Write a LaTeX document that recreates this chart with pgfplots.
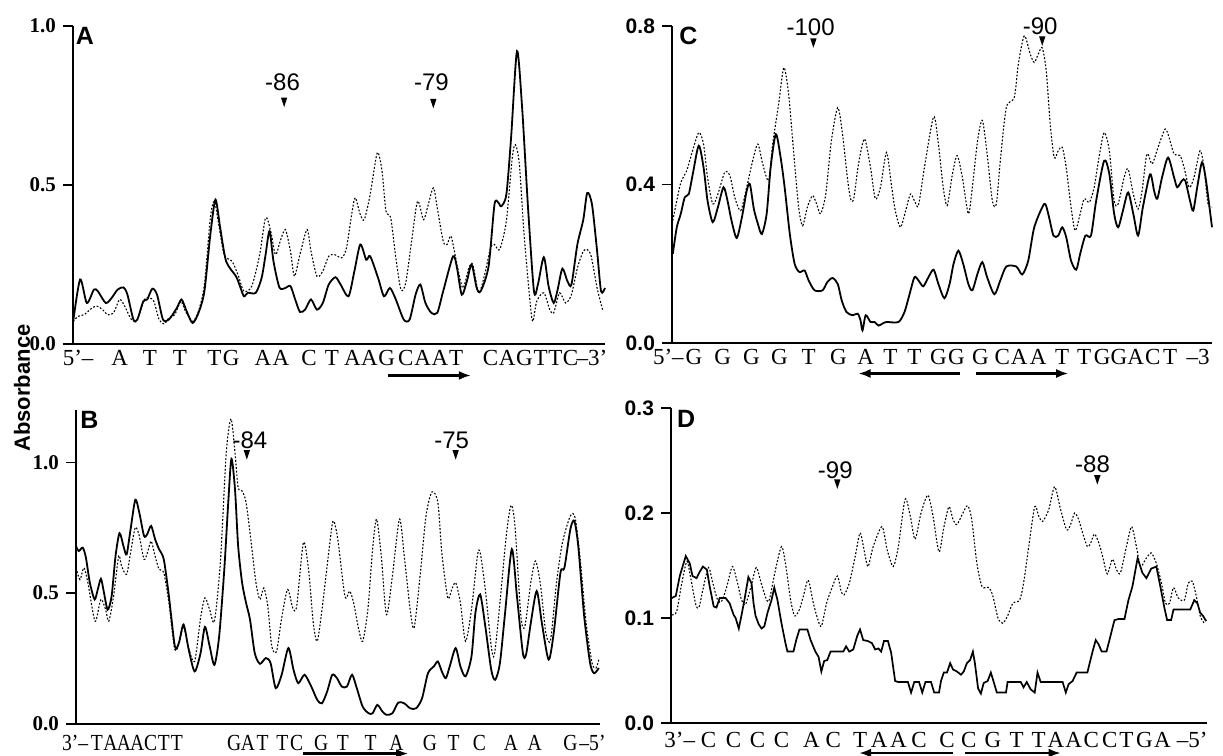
\documentclass[border=0pt]{standalone}
\usepackage{fontspec}
\setmainfont{Liberation Serif}
\setsansfont{Liberation Sans}
\usepackage{pgfplots}
\pgfplotsset{compat=1.18}
\usetikzlibrary{arrows.meta}

% x values are positions along each trace (scan units), y values are absorbance
\pgfplotsset{
  trace/.style={
    scale only axis, anchor=south west, clip=false,
    axis x line*=bottom, axis y line*=left,
    axis line style={-, line width=0.9pt},
    xtick=\empty, ytick pos=left, tick align=outside,
    major tick length=5pt, tick style={line width=0.8pt, black},
  },
  solid trace/.style={black, line width=0.9pt, smooth, tension=0.45},
  dotted trace/.style={black, line width=0.55pt, dash pattern=on 0.9pt off 0.9pt, smooth, tension=0.45},
}
\tikzset{
  seq/.style={font=\fontsize{11.5}{12}\selectfont, inner sep=0pt, text height=7.5pt, text depth=0pt, anchor=center},
  mark lbl/.style={font=\sffamily\fontsize{12}{13}\selectfont, inner sep=0pt},
  panel/.style={font=\sffamily\bfseries\fontsize{12.5}{13}\selectfont, inner sep=0pt},
  pair arrow/.style={line width=1.1pt, -{Latex[length=6pt,width=4.5pt]}},
}
\newcommand\seqrow[2]{\foreach \x/\l in {#2}{\edef\tmp{\noexpand\node[seq] at (axis cs:\x,#1) {\l};}\tmp}}
% downward marker: tip x, tip y, half width, height (axis units)
\newcommand\tri[4]{\fill (axis cs:#1,#2) -- (axis cs:#1-#3,#2+#4) -- (axis cs:#1+#3,#2+#4) -- cycle;}

\begin{document}
\begin{tikzpicture}
\useasboundingbox (0,0) rectangle (611.5pt,378pt);

% ---------------- A ----------------
\begin{axis}[trace, at={(36.5pt,206pt)}, width=266pt, height=159pt,
  xmin=187, xmax=1535, ymin=0, ymax=1.0,
  ytick={0,0.5,1.0}, yticklabels={0.0,0.5,1.0},
  yticklabel style={font=\bfseries\fontsize{10.5}{11}\selectfont}]
\addplot[solid trace] coordinates {
(187,0.066)(205,0.203)(222,0.129)(240,0.171)(250,0.166)(270,0.129)(285,0.145)(300,0.171)(315,0.178)(325,0.155)
(340,0.077)(350,0.077)(365,0.134)(375,0.140)(388,0.174)(400,0.155)(415,0.077)(430,0.077)(450,0.113)(462,0.140)
(475,0.103)(490,0.066)(505,0.098)(520,0.166)(535,0.344)(548,0.454)(560,0.365)(575,0.260)(600,0.213)(610,0.182)
(620,0.150)(630,0.161)(650,0.161)(665,0.208)(675,0.281)(685,0.355)(695,0.260)(710,0.178)(725,0.176)(738,0.182)
(750,0.140)(762,0.101)(775,0.108)(790,0.140)(805,0.108)(820,0.129)(835,0.187)(852,0.210)(865,0.187)(885,0.150)
(900,0.229)(915,0.313)(930,0.265)(940,0.276)(960,0.208)(975,0.150)(990,0.176)(1005,0.140)(1025,0.077)(1040,0.077)
(1055,0.155)(1067,0.187)(1080,0.129)(1095,0.098)(1110,0.098)(1125,0.166)(1150,0.276)(1160,0.239)(1172,0.155)(1185,0.197)
(1197,0.250)(1210,0.176)(1220,0.166)(1240,0.244)(1255,0.439)(1265,0.444)(1272,0.433)(1285,0.470)(1297,0.648)(1312,0.921)
(1325,0.743)(1340,0.428)(1355,0.166)(1365,0.187)(1380,0.273)(1392,0.182)(1405,0.129)(1415,0.171)(1427,0.237)(1440,0.197)
(1450,0.187)(1465,0.313)(1480,0.391)(1490,0.475)(1502,0.439)(1515,0.292)(1525,0.166)(1535,0.176)};
\addplot[dotted trace] coordinates {
(187,0.071)(200,0.087)(215,0.092)(235,0.113)(248,0.119)(262,0.108)(275,0.092)(290,0.098)(305,0.140)(318,0.119)
(335,0.077)(350,0.077)(368,0.140)(380,0.145)(392,0.134)(405,0.077)(418,0.063)(430,0.082)(445,0.092)(460,0.134)
(472,0.103)(490,0.071)(505,0.103)(520,0.187)(535,0.397)(545,0.449)(555,0.386)(570,0.281)(590,0.260)(605,0.218)
(620,0.166)(640,0.182)(660,0.281)(675,0.397)(688,0.355)(700,0.281)(712,0.323)(725,0.360)(738,0.292)(748,0.213)
(762,0.281)(780,0.360)(790,0.292)(805,0.213)(820,0.229)(835,0.276)(850,0.281)(868,0.271)(880,0.302)(893,0.407)
(902,0.460)(915,0.407)(925,0.391)(940,0.470)(958,0.601)(970,0.544)(980,0.418)(992,0.397)(1005,0.271)(1018,0.171)
(1030,0.192)(1045,0.323)(1060,0.449)(1075,0.391)(1085,0.428)(1100,0.491)(1110,0.428)(1125,0.323)(1135,0.313)(1145,0.339)
(1160,0.250)(1175,0.176)(1190,0.239)(1200,0.250)(1215,0.161)(1230,0.218)(1245,0.302)(1255,0.313)(1268,0.297)(1285,0.386)
(1300,0.586)(1308,0.627)(1318,0.565)(1330,0.344)(1345,0.134)(1352,0.071)(1362,0.134)(1380,0.161)(1395,0.108)(1405,0.098)
(1420,0.161)(1435,0.129)(1450,0.155)(1465,0.239)(1480,0.292)(1490,0.297)(1500,0.276)(1515,0.176)(1530,0.103)};
\node[panel] at (axis cs:217,0.970) {A};
\node[mark lbl] at (axis cs:718,0.822) {-86}; \tri{722}{0.745}{8}{0.030}
\node[mark lbl] at (axis cs:1095,0.822) {-79}; \tri{1100}{0.741}{8}{0.030}
\seqrow{-0.043}{200/5'--,305/A,382/T,458/T,545/T,588/G,668/A,714/A,785/C,843/T,895/A,938/A,982/G,1030/C,1073/A,1117/A,1158/T,1245/C,1287/A,1331/G,1372/T,1409/T,1448/C,1502/--3'}
\draw[pair arrow] (axis cs:985,-0.099) -- (axis cs:1195,-0.099);
\end{axis}

% ---------------- B ----------------
\begin{axis}[trace, at={(38pt,16pt)}, width=262pt, height=157pt,
  xmin=190, xmax=1515, ymin=0, ymax=1.2,
  ytick={0,0.5,1.0}, yticklabels={0.0,0.5,1.0},
  yticklabel style={font=\bfseries\fontsize{10.5}{11}\selectfont}]
\addplot[solid trace] coordinates {
(190,0.680)(197,0.661)(207,0.674)(215,0.636)(225,0.540)(237,0.476)(245,0.514)(253,0.555)(260,0.508)(270,0.437)
(280,0.488)(290,0.642)(300,0.729)(310,0.680)(318,0.648)(328,0.744)(340,0.857)(350,0.808)(362,0.719)(370,0.725)
(380,0.757)(390,0.706)(400,0.668)(412,0.629)(425,0.488)(440,0.297)(450,0.309)(462,0.380)(475,0.284)(490,0.201)
(505,0.271)(516,0.371)(528,0.297)(540,0.226)(552,0.335)(565,0.591)(575,0.847)(583,1.013)(592,0.898)(600,0.680)
(610,0.540)(620,0.463)(630,0.399)(642,0.271)(655,0.230)(670,0.252)(682,0.233)(695,0.137)(710,0.188)(727,0.290)
(740,0.207)(752,0.156)(768,0.188)(785,0.143)(800,0.092)(812,0.079)(825,0.124)(838,0.188)(850,0.175)(862,0.143)
(875,0.143)(888,0.188)(900,0.137)(915,0.066)(930,0.041)(940,0.041)(952,0.073)(965,0.047)(975,0.035)(990,0.041)
(1005,0.082)(1020,0.079)(1035,0.060)(1050,0.060)(1065,0.098)(1080,0.194)(1095,0.220)(1105,0.239)(1115,0.201)(1125,0.175)
(1135,0.220)(1150,0.290)(1162,0.220)(1175,0.182)(1190,0.258)(1200,0.425)(1212,0.495)(1225,0.373)(1240,0.207)(1250,0.169)
(1262,0.233)(1275,0.425)(1292,0.668)(1305,0.488)(1320,0.271)(1328,0.265)(1340,0.386)(1355,0.508)(1368,0.386)(1385,0.246)
(1398,0.348)(1415,0.578)(1425,0.597)(1440,0.744)(1450,0.776)(1460,0.680)(1475,0.412)(1490,0.233)(1500,0.194)(1512,0.214)};
\addplot[dotted trace] coordinates {
(190,0.597)(200,0.552)(210,0.597)(220,0.540)(238,0.393)(250,0.463)(255,0.476)(265,0.437)(273,0.393)(285,0.488)
(298,0.642)(305,0.604)(318,0.572)(328,0.655)(340,0.751)(350,0.719)(362,0.629)(372,0.661)(380,0.699)(390,0.642)
(400,0.591)(412,0.578)(425,0.463)(440,0.284)(452,0.316)(462,0.373)(475,0.290)(490,0.239)(505,0.405)(516,0.482)
(528,0.437)(540,0.393)(555,0.616)(570,1.038)(582,1.166)(592,1.038)(600,0.904)(610,0.891)(620,0.847)(632,0.706)
(645,0.540)(655,0.476)(665,0.520)(675,0.450)(685,0.297)(697,0.277)(710,0.405)(725,0.514)(738,0.444)(748,0.450)
(765,0.693)(778,0.591)(790,0.386)(800,0.316)(812,0.437)(828,0.642)(840,0.776)(852,0.706)(870,0.488)(882,0.508)
(892,0.463)(905,0.361)(915,0.316)(928,0.437)(940,0.668)(950,0.783)(962,0.642)(975,0.418)(990,0.565)(1008,0.783)
(1020,0.642)(1035,0.437)(1045,0.367)(1060,0.565)(1075,0.795)(1090,0.887)(1105,0.847)(1115,0.655)(1130,0.482)(1140,0.514)
(1150,0.540)(1162,0.463)(1175,0.316)(1190,0.437)(1205,0.642)(1212,0.655)(1225,0.514)(1240,0.297)(1248,0.265)(1262,0.463)
(1278,0.719)(1290,0.836)(1300,0.757)(1315,0.412)(1325,0.373)(1340,0.540)(1352,0.623)(1365,0.527)(1378,0.348)(1390,0.322)
(1405,0.540)(1420,0.693)(1440,0.795)(1452,0.789)(1465,0.629)(1480,0.386)(1495,0.233)(1505,0.214)(1512,0.246)};
\node[panel] at (axis cs:224,1.163) {B};
\node[mark lbl] at (axis cs:630,1.083) {-84}; \tri{622}{1.010}{8}{0.037}
\node[mark lbl] at (axis cs:1140,1.083) {-75}; \tri{1150}{1.010}{8}{0.037}
\tikzset{seq/.append style={font=\fontsize{11.5}{12}\selectfont\addfontfeature{FakeStretch=0.85}}}
\seqrow{-0.074}{188/3'--,243/T,277/A,311/A,345/A,379/C,412/T,445/T,590/G,625/A,662/T,712/T,748/C,810/G,865/T,935/T,1000/A,1085/G,1145/T,1210/C,1290/A,1350/A,1440/G,1496/--5'}
\draw[pair arrow] (axis cs:765,-0.113) -- (axis cs:1030,-0.113);
\end{axis}

% ---------------- C ----------------
\begin{axis}[trace, at={(336pt,206.5pt)}, width=270pt, height=158.5pt,
  xmin=183, xmax=1535, ymin=0, ymax=0.8,
  ytick={0,0.4,0.8}, yticklabels={0.0,0.4,0.8},
  yticklabel style={font=\sffamily\bfseries\fontsize{10.5}{11}\selectfont}]
\addplot[solid trace] coordinates {
(185,0.225)(195,0.292)(205,0.326)(215,0.368)(225,0.376)(235,0.426)(250,0.498)(262,0.443)(272,0.359)(285,0.305)
(298,0.343)(312,0.393)(322,0.359)(332,0.309)(345,0.265)(358,0.317)(370,0.384)(378,0.401)(388,0.338)(398,0.301)
(408,0.275)(420,0.326)(430,0.443)(443,0.527)(455,0.468)(465,0.393)(478,0.275)(490,0.200)(502,0.179)(515,0.183)
(525,0.158)(540,0.133)(560,0.133)(572,0.154)(585,0.164)(598,0.149)(608,0.107)(620,0.078)(635,0.070)(648,0.074)
(655,0.057)(660,0.032)(668,0.070)(680,0.053)(690,0.053)(700,0.044)(710,0.049)(720,0.053)(750,0.053)(765,0.078)
(778,0.124)(790,0.166)(800,0.158)(812,0.143)(825,0.166)(838,0.185)(850,0.149)(865,0.113)(878,0.149)(888,0.200)
(900,0.233)(912,0.200)(925,0.149)(935,0.133)(948,0.175)(960,0.204)(972,0.166)(990,0.123)(1005,0.158)(1020,0.193)
(1045,0.193)(1060,0.173)(1075,0.208)(1090,0.292)(1115,0.351)(1125,0.326)(1138,0.271)(1150,0.271)(1160,0.292)(1170,0.267)
(1182,0.208)(1195,0.185)(1205,0.225)(1218,0.271)(1232,0.271)(1245,0.359)(1265,0.460)(1278,0.426)(1290,0.326)(1300,0.292)
(1312,0.334)(1325,0.380)(1338,0.326)(1350,0.271)(1362,0.343)(1380,0.426)(1390,0.384)(1398,0.364)(1410,0.418)(1425,0.468)
(1440,0.418)(1448,0.393)(1460,0.410)(1468,0.410)(1480,0.359)(1488,0.334)(1498,0.393)(1510,0.456)(1520,0.410)(1535,0.292)};
\addplot[dotted trace] coordinates {
(185,0.309)(195,0.359)(205,0.405)(220,0.435)(232,0.477)(250,0.531)(262,0.502)(272,0.418)(285,0.351)(298,0.376)
(315,0.431)(328,0.422)(340,0.368)(355,0.334)(370,0.393)(385,0.460)(398,0.502)(410,0.452)(425,0.410)(435,0.502)
(450,0.603)(463,0.695)(475,0.628)(488,0.477)(500,0.343)(510,0.296)(522,0.343)(535,0.372)(545,0.351)(555,0.326)
(568,0.376)(582,0.510)(598,0.594)(610,0.527)(622,0.418)(630,0.364)(638,0.364)(650,0.452)(665,0.515)(680,0.443)
(692,0.364)(705,0.393)(720,0.481)(732,0.401)(742,0.334)(755,0.292)(768,0.334)(780,0.376)(790,0.359)(800,0.347)
(815,0.443)(838,0.571)(850,0.502)(862,0.393)(872,0.347)(885,0.426)(897,0.473)(910,0.418)(925,0.326)(935,0.393)
(948,0.510)(960,0.562)(972,0.477)(985,0.359)(995,0.351)(1005,0.460)(1020,0.594)(1040,0.620)(1050,0.703)(1065,0.775)
(1080,0.729)(1090,0.708)(1100,0.729)(1110,0.745)(1120,0.687)(1130,0.552)(1140,0.468)(1150,0.485)(1160,0.494)(1170,0.443)
(1180,0.359)(1192,0.284)(1205,0.326)(1215,0.364)(1228,0.355)(1240,0.393)(1252,0.468)(1265,0.531)(1278,0.485)(1290,0.359)
(1300,0.351)(1315,0.418)(1325,0.439)(1338,0.376)(1350,0.338)(1360,0.384)(1372,0.477)(1385,0.452)(1400,0.494)(1418,0.540)
(1430,0.510)(1440,0.477)(1455,0.473)(1465,0.443)(1478,0.393)(1490,0.418)(1505,0.485)(1515,0.443)(1525,0.351)(1535,0.343)};
\node[panel] at (axis cs:224,0.775) {C};
\node[mark lbl] at (axis cs:530,0.796) {-100}; \tri{537}{0.745}{8}{0.024}
\node[mark lbl] at (axis cs:1105,0.800) {-90}; \tri{1110}{0.750}{8}{0.024}
\seqrow{-0.035}{174/5'--,238/G,310/G,382/G,452/G,525/T,600/G,668/A,730/T,790/T,850/G,895/G,955/G,1010/C,1052/A,1100/A,1160/T,1215/T,1260/G,1302/G,1344/A,1387/C,1430/T,1500/--3}
\draw[pair arrow] (axis cs:905,-0.077) -- (axis cs:650,-0.077);
\draw[pair arrow] (axis cs:945,-0.077) -- (axis cs:1175,-0.077);
\end{axis}

% ---------------- D ----------------
\begin{axis}[trace, at={(335.5pt,16.5pt)}, width=268pt, height=157.5pt,
  xmin=178, xmax=1522, ymin=0, ymax=0.3,
  ytick={0,0.1,0.2,0.3}, yticklabels={0.0,0.1,0.2,0.3},
  yticklabel style={font=\sffamily\bfseries\fontsize{10.5}{11}\selectfont}]
\addplot[black, line width=0.85pt] coordinates {
(180,0.119)(190,0.121)(200,0.140)(215,0.159)(225,0.152)(232,0.140)(242,0.138)(250,0.144)(258,0.149)(268,0.146)
(275,0.130)(285,0.111)(292,0.110)(300,0.119)(315,0.119)(325,0.114)(335,0.103)(340,0.100)(348,0.090)(355,0.103)
(362,0.117)(372,0.139)(380,0.133)(385,0.114)(390,0.102)(398,0.094)(405,0.090)(412,0.092)(420,0.105)(430,0.117)
(437,0.129)(445,0.117)(455,0.095)(465,0.076)(470,0.068)(485,0.068)(492,0.079)(500,0.089)(520,0.089)(528,0.079)
(540,0.068)(548,0.063)(555,0.049)(562,0.059)(570,0.060)(578,0.068)(610,0.068)(617,0.073)(625,0.068)(635,0.070)
(645,0.083)(652,0.089)(660,0.079)(672,0.078)(682,0.076)(690,0.070)(698,0.071)(705,0.068)(712,0.078)(722,0.078)
(730,0.067)(740,0.040)(748,0.039)(772,0.039)(780,0.029)(788,0.039)(800,0.039)(808,0.029)(816,0.039)(830,0.039)
(838,0.029)(850,0.029)(855,0.040)(862,0.048)(870,0.048)(878,0.057)(885,0.051)(895,0.049)(905,0.046)(912,0.049)
(920,0.057)(928,0.060)(935,0.068)(940,0.057)(948,0.033)(955,0.028)(962,0.038)(972,0.040)(980,0.048)(988,0.038)
(995,0.029)(1018,0.029)(1022,0.039)(1055,0.039)(1062,0.034)(1070,0.039)(1080,0.032)(1090,0.029)(1097,0.048)(1105,0.039)
(1160,0.039)(1168,0.029)(1175,0.037)(1185,0.040)(1195,0.048)(1222,0.048)(1235,0.068)(1243,0.079)(1250,0.075)(1258,0.068)
(1270,0.068)(1280,0.083)(1290,0.098)(1300,0.099)(1315,0.099)(1325,0.117)(1335,0.130)(1348,0.157)(1360,0.143)(1370,0.138)
(1382,0.147)(1395,0.149)(1405,0.130)(1415,0.110)(1422,0.098)(1432,0.098)(1438,0.108)(1480,0.108)(1490,0.117)(1498,0.114)
(1505,0.105)(1512,0.102)(1520,0.097)};
\addplot[dotted trace] coordinates {
(180,0.103)(192,0.106)(205,0.133)(218,0.154)(228,0.137)(240,0.113)(248,0.110)(258,0.127)(272,0.148)(283,0.133)
(295,0.117)(305,0.116)(318,0.130)(332,0.149)(345,0.133)(355,0.117)(365,0.113)(380,0.132)(392,0.148)(405,0.132)
(418,0.117)(425,0.118)(440,0.146)(455,0.168)(465,0.152)(478,0.117)(488,0.102)(500,0.108)(510,0.121)(522,0.136)
(535,0.114)(545,0.100)(555,0.092)(568,0.114)(580,0.127)(595,0.140)(605,0.125)(612,0.122)(625,0.133)(640,0.159)
(652,0.181)(662,0.165)(672,0.149)(685,0.168)(707,0.187)(720,0.165)(735,0.149)(748,0.168)(765,0.213)(778,0.197)
(790,0.175)(805,0.200)(822,0.217)(835,0.197)(850,0.163)(862,0.186)(875,0.206)(885,0.194)(895,0.189)(910,0.200)
(922,0.207)(932,0.194)(945,0.152)(958,0.130)(975,0.129)(985,0.121)(998,0.100)(1010,0.095)(1022,0.102)(1035,0.114)
(1052,0.117)(1062,0.133)(1075,0.168)(1090,0.206)(1100,0.197)(1110,0.192)(1125,0.203)(1140,0.225)(1155,0.203)(1170,0.184)
(1180,0.189)(1190,0.200)(1200,0.194)(1210,0.181)(1222,0.168)(1230,0.171)(1240,0.180)(1252,0.170)(1262,0.156)(1272,0.142)
(1285,0.156)(1295,0.146)(1305,0.143)(1320,0.168)(1333,0.187)(1345,0.168)(1355,0.149)(1368,0.156)(1382,0.162)(1395,0.152)
(1408,0.133)(1418,0.114)(1428,0.114)(1438,0.129)(1450,0.119)(1465,0.117)(1475,0.133)(1485,0.135)(1495,0.121)(1505,0.102)
(1515,0.095)};
\node[panel] at (axis cs:216,0.290) {D};
\node[mark lbl] at (axis cs:590,0.241) {-99}; \tri{595}{0.223}{8}{0.009}
\node[mark lbl] at (axis cs:1235,0.246) {-88}; \tri{1247}{0.227}{8}{0.009}
\seqrow{-0.016}{200/3'--,272/C,335/C,395/C,455/C,530/A,585/C,652/T,700/A,748/A,800/C,870/C,925/C,985/G,1045/T,1100/T,1143/A,1188/A,1232/C,1278/C,1320/T,1365/G,1410/A,1485/--5'}
\draw[pair arrow] (axis cs:885,-0.0286) -- (axis cs:650,-0.0286);
\draw[pair arrow] (axis cs:915,-0.0286) -- (axis cs:1155,-0.0286);
\end{axis}

\node[rotate=90, font=\sffamily\bfseries\fontsize{11}{12}\selectfont] at (11pt,184pt) {Absorbance};
\end{tikzpicture}
\end{document}
